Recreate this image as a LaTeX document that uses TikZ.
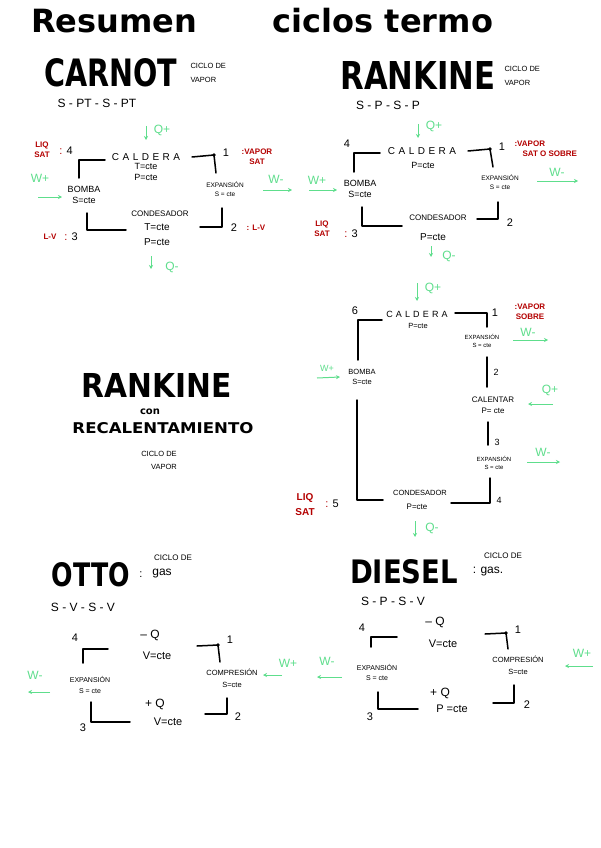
\documentclass[tikz,border=0pt]{standalone}
\usepackage{graphicx}
\usepackage{fontspec}
\setmainfont{Liberation Sans}
\newfontfamily\titfont{DejaVu Sans}
\newfontfamily\spaced[LetterSpace=35]{Liberation Sans}
\usetikzlibrary{arrows.meta}
\definecolor{verdeq}{RGB}{94,222,140}
\definecolor{rojosat}{RGB}{180,0,0}

\begin{document}
\begin{tikzpicture}[x=1pt,y=-1pt,
    ln/.style={line width=1.5pt,line cap=round,line join=round},
    gflecha/.style={verdeq,line width=1pt,-{Stealth[length=4pt,width=4pt]}},
    qlab/.style={text=verdeq,font=\fontsize{12}{12}\selectfont},
    rlab/.style={text=rojosat,font=\bfseries\fontsize{8}{10}\selectfont,align=center},
    lbl/.style={font=\fontsize{9}{11}\selectfont,align=center},
    smlbl/.style={font=\fontsize{6.5}{9}\selectfont,align=center},
    num/.style={font=\fontsize{11}{11}\selectfont},
    seq/.style={font=\fontsize{12}{12}\selectfont},
    sub/.style={font=\fontsize{7.5}{14}\selectfont,align=left,anchor=west}]
\fill[white] (0,0) rectangle (600,848);
\useasboundingbox (0,0) rectangle (600,848);

% titulo
\node (resumen) at (114,21) {\titfont\bfseries\fontsize{32}{32}\selectfont Resumen};
\node (ciclos) at (383,21) {\titfont\bfseries\fontsize{32}{32}\selectfont ciclos termo};

% ---------- Carnot ----------
\node (carnot) at (111,73) {\resizebox{133pt}{28pt}{\titfont\bfseries CARNOT}};
\node[sub] (ca-sub) at (187,73) {CICLO DE\\VAPOR};
\node[seq] (ca-seq) at (97,103) {S - PT - S - PT};
\draw[gflecha] (146,126) -- (146,140);
\node[qlab] (ca-qin) at (162,130) {Q+};
\node[rlab] (ca-liq) at (42,150) {LIQ\\SAT};
\node[num] (ca-4) at (66,151) {{\color{rojosat}:} 4};
\node (ca-cald) at (146,157) {\spaced\fontsize{10}{10}\selectfont CALDERA};
\node[lbl] (ca-caldc) at (146,172) {T=cte\\P=cte};
\draw[ln] (79,178) |- (105,160);
\draw[ln] (192,157) -- (214,155) -- (216,173);
\fill (214,155) circle (1.8);
\node[num] (ca-1) at (226,153) {1};
\node[rlab] (ca-vap) at (257,157) {:VAPOR\\SAT};
\node[qlab] (ca-wp) at (40,178) {W+};
\draw[gflecha] (38,197) -- (62,197);
\node[lbl] (ca-bomba) at (84,195) {BOMBA\\S=cte};
\node[smlbl] (ca-exp) at (225,189) {EXPANSIÓN\\S = cte};
\node[qlab] (ca-wm) at (276,179) {W-};
\draw[gflecha] (263,190) -- (292,190);
\draw[ln] (87,213) |- (126,230);
\node[font=\fontsize{8}{8}\selectfont] (ca-cond) at (160,214) {CONDESADOR};
\node[lbl,font=\fontsize{10}{15}\selectfont] (ca-condc) at (157,235) {T=cte\\P=cte};
\draw[ln] (200,227) -| (222,208);
\node[num] (ca-2) at (234,228) {2};
\node[rlab] (ca-lv2) at (256,228) {: L-V};
\node[rlab] (ca-lv3) at (50,237) {L-V};
\node[num] (ca-3) at (71,237) {{\color{rojosat}:} 3};
\draw[gflecha] (151,256) -- (151,269);
\node[qlab] (ca-qout) at (172,267) {Q-};

% ---------- Rankine ----------
\node (rankine) at (418,75) {\resizebox{155pt}{28pt}{\titfont\bfseries RANKINE}};
\node[sub] (ra-sub) at (501,76) {CICLO DE\\VAPOR};
\node[seq] (ra-seq) at (388,105) {S - P - S - P};
\draw[gflecha] (418,124) -- (418,138);
\node[qlab] (ra-qin) at (434,126) {Q+};
\node[num] (ra-4) at (347,144) {4};
\draw[ln] (354,172) |- (380,153);
\node (ra-cald) at (422,151) {\spaced\fontsize{10}{10}\selectfont CALDERA};
\node[lbl] (ra-caldc) at (423,165) {P=cte};
\draw[ln] (468,151) -- (490,149) -- (493,167);
\fill (490,149) circle (1.8);
\node[num] (ra-1) at (502,147) {1};
\node[rlab,align=left,anchor=west] (ra-vap) at (511,149) {:VAPOR\\\hspace{8pt}SAT O SOBRE};
\node[qlab] (ra-wp) at (317,180) {W+};
\draw[gflecha] (309,190) -- (337,190);
\node[lbl] (ra-bomba) at (360,189) {BOMBA\\S=cte};
\node[smlbl] (ra-exp) at (500,182) {EXPANSIÓN\\S = cte};
\node[qlab] (ra-wm) at (557,172) {W-};
\draw[gflecha] (537,181) -- (578,181);
\draw[ln] (362,207) |- (402,226);
\node[rlab] (ra-liq) at (322,229) {LIQ\\SAT};
\node[num] (ra-3) at (351,234) {{\color{rojosat}:} 3};
\node[font=\fontsize{8}{8}\selectfont] (ra-cond) at (438,218) {CONDESADOR};
\node[lbl,font=\fontsize{10}{10}\selectfont] (ra-condc) at (433,237) {P=cte};
\draw[ln] (477,219) -| (498,202);
\node[num] (ra-2) at (510,223) {2};
\draw[gflecha] (431,246) -- (431,257);
\node[qlab] (ra-qout) at (449,256) {Q-};

% ---------- Rankine con recalentamiento ----------
\node (rr-tit) at (157,385) {\resizebox{150pt}{24pt}{\titfont\bfseries RANKINE}};
\node (rr-con) at (150,412) {\titfont\bfseries\fontsize{10}{10}\selectfont con};
\node (rr-rec) at (163,428) {\resizebox{181pt}{11pt}{\titfont\bfseries RECALENTAMIENTO}};
\node[font=\fontsize{7.5}{13}\selectfont,align=center] (rr-sub) at (159,460) {CICLO DE\\\hspace{10pt}VAPOR};
\draw[gflecha] (417,283) -- (417,301);
\node[qlab] (rr-qin) at (433,288) {Q+};
\node[num] (rr-6) at (355,311) {6};
\node (rr-cald) at (417,314) {\spaced\fontsize{9}{9}\selectfont CALDERA};
\node[smlbl,font=\fontsize{7.5}{9}\selectfont] (rr-caldc) at (418,326) {P=cte};
\draw[ln] (358,360) |- (382,320);
\draw[ln] (455,313) -| (487,327);
\node[num] (rr-1) at (495,313) {1};
\node[rlab] (rr-vap) at (530,312) {:VAPOR\\SOBRE};
\node[smlbl,font=\fontsize{6}{8}\selectfont] (rr-exp1) at (482,341) {EXPANSIÓN\\S = cte};
\node[qlab] (rr-wm1) at (528,332) {W-};
\draw[gflecha] (513,340) -- (548,340);
\node[qlab,font=\fontsize{9}{9}\selectfont] (rr-wp) at (327,368) {W+};
\draw[gflecha] (317,378) -- (340,377);
\node[smlbl,font=\fontsize{7.5}{10}\selectfont] (rr-bomba) at (362,377) {BOMBA\\S=cte};
\draw[ln] (487,357) -- (487,387);
\node[num,font=\fontsize{9}{9}\selectfont] (rr-2) at (496,372) {2};
\node[lbl,font=\fontsize{8}{11}\selectfont] (rr-calen) at (493,405) {CALENTAR\\P= cte};
\node[qlab] (rr-qcal) at (550,390) {Q+};
\draw[gflecha] (553,404) -- (528,404);
\draw[ln] (488,422) -- (488,445);
\node[num,font=\fontsize{9}{9}\selectfont] (rr-3) at (497,442) {3};
\node[smlbl,font=\fontsize{6}{8}\selectfont] (rr-exp2) at (494,463) {EXPANSIÓN\\S = cte};
\node[qlab] (rr-wm2) at (543,452) {W-};
\draw[gflecha] (527,462) -- (560,462);
\draw[ln] (490,478) |- (451,503);
\node[num,font=\fontsize{9}{9}\selectfont] (rr-4) at (499,500) {4};
\draw[ln] (357,400) |- (383,500);
\node[font=\fontsize{7.5}{8}\selectfont] (rr-cond) at (420,493) {CONDESADOR};
\node[smlbl,font=\fontsize{8}{9}\selectfont] (rr-condc) at (417,507) {P=cte};
\node[rlab,font=\bfseries\fontsize{10}{15}\selectfont] (rr-liq) at (305,505) {LIQ\\SAT};
\node[num] (rr-5) at (332,504) {{\color{rojosat}:} 5};
\draw[gflecha] (415,521) -- (415,537);
\node[qlab] (rr-qout) at (432,528) {Q-};

% ---------- Otto ----------
\node (otto) at (91,575) {\resizebox{78pt}{24pt}{\titfont\bfseries OTTO}};
\node[num] (ot-dp) at (141,575) {:};
\node[font=\fontsize{8}{8}\selectfont] (ot-sub) at (173,558) {CICLO DE};
\node[font=\fontsize{12}{12}\selectfont] (ot-gas) at (162,574) {gas};
\node[seq] (ot-seq) at (83,607) {S - V - S - V};
\node[num] (ot-4) at (75,638) {4};
\draw[ln] (83,663) |- (108,649);
\node[font=\fontsize{12}{12}\selectfont] (ot-qm) at (150,635) {– Q};
\node[num] (ot-v1) at (157,656) {V=cte};
\draw[ln] (197,646) -- (218,645) -- (220,662);
\fill (218,645) circle (1.8);
\node[num] (ot-1) at (230,640) {1};
\node[qlab] (ot-wp) at (288,663) {W+};
\draw[gflecha] (282,675) -- (263,675);
\node[lbl,font=\fontsize{7.5}{12}\selectfont] (ot-comp) at (232,678) {COMPRESIÓN\\S=cte};
\node[qlab] (ot-wm) at (35,675) {W-};
\draw[gflecha] (50,692) -- (28,692);
\node[lbl,font=\fontsize{7}{11}\selectfont] (ot-exp) at (90,685) {EXPANSIÓN\\S = cte};
\draw[ln] (91,702) |- (130,722);
\node[num] (ot-3) at (83,728) {3};
\node[font=\fontsize{12}{12}\selectfont] (ot-qp) at (155,704) {+ Q};
\node[num] (ot-v2) at (168,722) {V=cte};
\draw[ln] (205,714) -| (227,698);
\node[num] (ot-2) at (238,717) {2};

% ---------- Diesel ----------
\node (diesel) at (404,572) {\resizebox{108pt}{24pt}{\titfont\bfseries DIESEL}};
\node[font=\fontsize{8}{8}\selectfont] (di-sub) at (503,556) {CICLO DE};
\node[font=\fontsize{12}{12}\selectfont] (di-gas) at (488,572) {: gas.};
\node[seq] (di-seq) at (393,601) {S - P - S - V};
\node[num] (di-4) at (362,628) {4};
\draw[ln] (371,647) |- (397,637);
\node[font=\fontsize{12}{12}\selectfont] (di-qm) at (435,622) {– Q};
\node[num] (di-v) at (443,644) {V=cte};
\draw[ln] (485,634) -- (506,633) -- (508,649);
\fill (506,633) circle (1.8);
\node[num] (di-1) at (518,630) {1};
\node[qlab] (di-wp) at (582,653) {W+};
\draw[gflecha] (593,666) -- (565,666);
\node[lbl,font=\fontsize{7.5}{12}\selectfont] (di-comp) at (518,665) {COMPRESIÓN\\S=cte};
\node[qlab] (di-wm) at (327,661) {W-};
\draw[gflecha] (342,677) -- (317,677);
\node[lbl,font=\fontsize{7}{10}\selectfont] (di-exp) at (377,672) {EXPANSIÓN\\S = cte};
\draw[ln] (378,692) |- (418,709);
\node[num] (di-3) at (370,717) {3};
\node[font=\fontsize{12}{12}\selectfont] (di-qp) at (440,693) {+ Q};
\node[num] (di-p) at (452,709) {P =cte};
\draw[ln] (493,703) -| (514,685);
\node[num] (di-2) at (527,705) {2};
\end{tikzpicture}
\end{document}
